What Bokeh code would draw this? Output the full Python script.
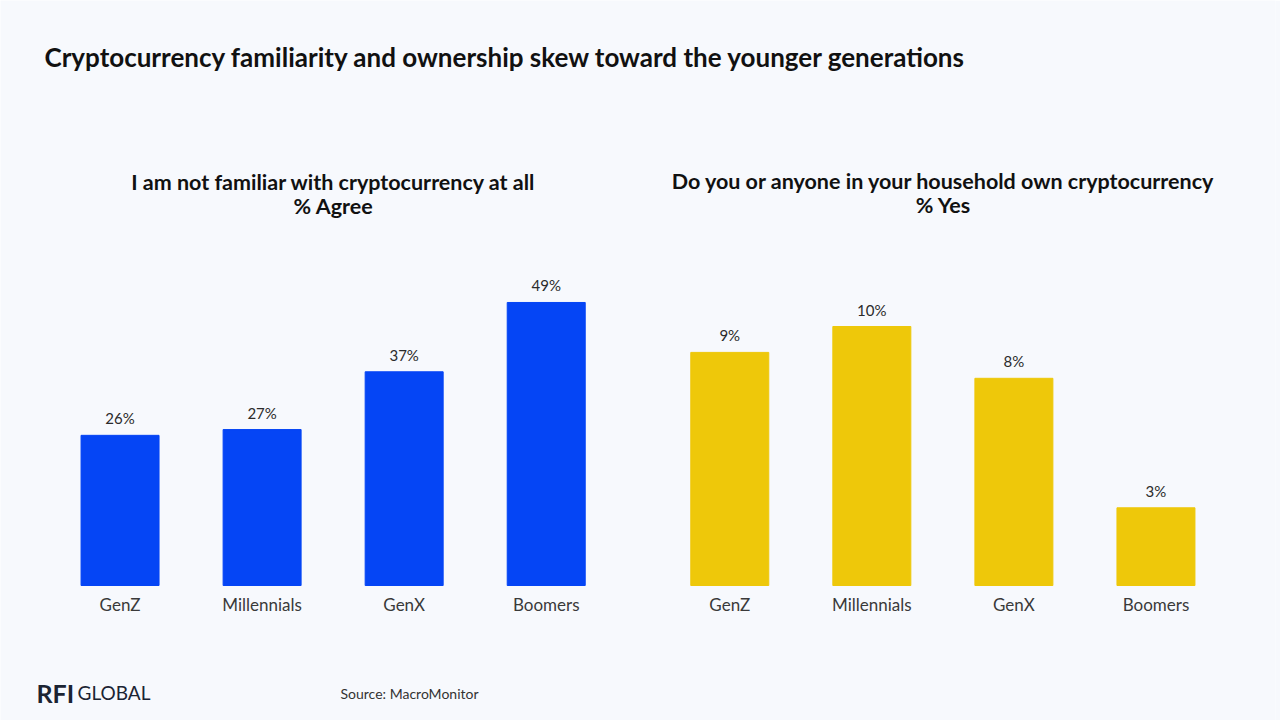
from bokeh.plotting import figure
from bokeh.models import ColumnDataSource, FactorRange, Range1d, Label
from bokeh.core.properties import value
from bokeh.embed import file_html
from bokeh.resources import INLINE

# Survey results by generation
generations = ["GenZ", "Millennials", "GenX", "Boomers"]
not_familiar = [26, 27, 37, 49]   # % agree
own_crypto = [9, 10, 8, 3]        # % yes

title = "Cryptocurrency familiarity and ownership skew toward the younger generations"
left_title = ["I am not familiar with cryptocurrency at all", "% Agree"]
right_title = ["Do you or anyone in your household own cryptocurrency", "% Yes"]
source_note = "Source: MacroMonitor"

BG = "#F7F9FD"
BLUE = "#0545F5"
YELLOW = "#EEC80A"
FONT = "Lato"

left_x = [("a", g) for g in generations]
right_x = [("b", g) for g in generations]

x_range = FactorRange(*(left_x + right_x), factor_padding=0, group_padding=0.292,
                      range_padding=0.3415, range_padding_units="absolute")

p = figure(width=1280, height=720, x_range=x_range, y_range=Range1d(-23.37, 101.28),
           x_axis_location=None, y_axis_location=None, toolbar_location=None,
           output_backend="svg", min_border=0, min_border_right=5,
           background_fill_color=BG, border_fill_color=BG, outline_line_color=None)
p.extra_y_ranges = {"own": Range1d(-5.212, 22.587)}
p.grid.visible = False

left_src = ColumnDataSource(dict(x=left_x, v=not_familiar, lab=[f"{v}%" for v in not_familiar],
                                 cat=generations))
right_src = ColumnDataSource(dict(x=right_x, v=own_crypto, lab=[f"{v}%" for v in own_crypto],
                                  cat=generations))

for src, color, yname in [(left_src, BLUE, "default"), (right_src, YELLOW, "own")]:
    p.vbar(x="x", top="v", bottom=0, width=0.549, color=color, source=src, y_range_name=yname)
    p.text(x="x", y="v", text="lab", source=src, y_range_name=yname, y_offset=-8,
           text_align="center", text_baseline="bottom", text_font=value(FONT),
           text_font_size="15px", text_color="#2b2b2b")
    p.text(x="x", y=0, text="cat", source=src, y_range_name=yname, y_offset=8,
           text_align="center", text_baseline="top", text_font=value(FONT),
           text_font_size="17px", text_color="#3a3a3a")


def add_label(text, x, y_top, size, style="normal", align="left", color="#111111"):
    p.add_layout(Label(x=x, y=720 - y_top, x_units="screen", y_units="screen", text=text,
                       text_align=align, text_baseline="middle", text_font=FONT,
                       text_font_size=size, text_font_style=style, text_color=color))


add_label(title, 44, 56, "26px", "bold")
add_label(left_title[0], 333, 181, "21.5px", "bold", "center")
add_label(left_title[1], 333, 205, "21.5px", "bold", "center")
add_label(right_title[0], 943, 180, "21.5px", "bold", "center")
add_label(right_title[1], 943, 204, "21.5px", "bold", "center")
add_label("RFI", 36, 692, "25px", "bold", color="#1b2433")
add_label("GLOBAL", 77, 692, "19px", "normal", color="#1b2433")
add_label(source_note, 340, 693, "14px", "normal", color="#333333")

open("out.html", "w").write(file_html(p, INLINE))
